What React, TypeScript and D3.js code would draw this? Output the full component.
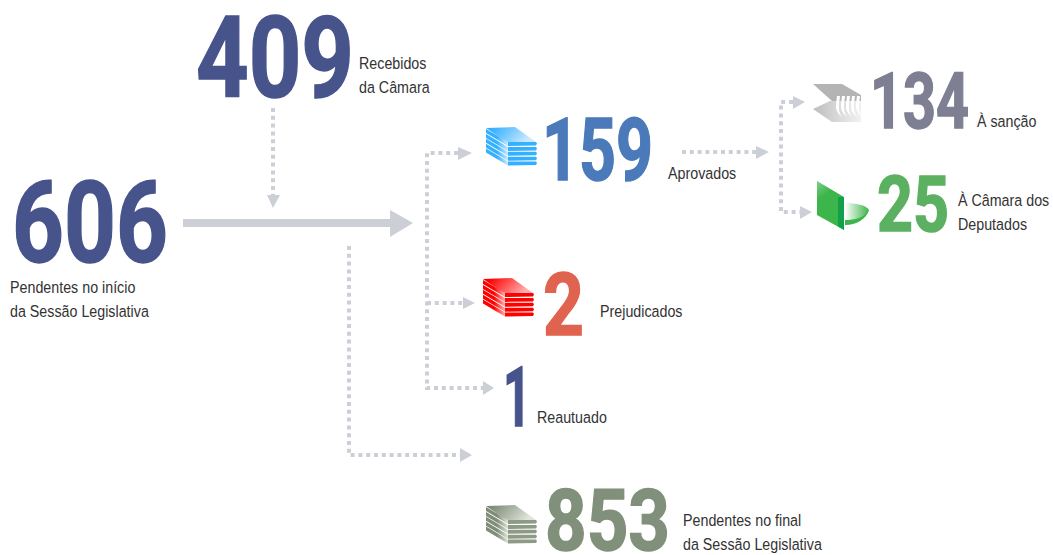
import React from "react";
import * as d3 from "d3";

// values
const stages = ["inicio", "recebidos", "aprovados", "sancao", "camara", "prejudicados", "reautuado", "final"];
const totals = [606, 409, 159, 134, 25, 2, 1, 853];
const captions = [
  ["Pendentes no início", "da Sessão Legislativa"],
  ["Recebidos", "da Câmara"],
  ["Aprovados"],
  ["À sanção"],
  ["À Câmara dos", "Deputados"],
  ["Prejudicados"],
  ["Reautuado"],
  ["Pendentes no final", "da Sessão Legislativa"],
];

const stageColor = d3.scaleOrdinal<string, string>()
  .domain(stages)
  .range(["#47548c", "#47548c", "#4a7ab9", "#7e7f92", "#5cb062", "#e06350", "#47548c", "#81907a"]);

// layout, one row per stage: number box then caption origin
const numberBox = [
  { x: 12, base: 262, w: 156, size: 113 },
  { x: 196, base: 97, w: 158, size: 113 },
  { x: 542, base: 180, w: 111, size: 88 },
  { x: 870, base: 128, w: 99, size: 78 },
  { x: 877, base: 231, w: 72, size: 78 },
  { x: 543, base: 335, w: 41, size: 88 },
  { x: 503, base: 426, w: 28, size: 83 },
  { x: 545, base: 550, w: 125, size: 85 },
];
const captionPos = [
  [10, 293], [359, 69], [668, 179], [977, 127], [958, 206], [600, 317], [537, 423], [683, 526],
];

const arrowGrey = "#cdcfd6";
const captionSqueeze = 0.84;

type Pt = [number, number];
const line = d3.line<Pt>();

const dotted: Pt[][] = [
  [[273, 108], [273, 195]],
  [[458, 153], [427, 153], [427, 388], [483, 388]],
  [[427, 303], [463, 303]],
  [[349, 246], [349, 455], [460, 455]],
  [[682, 152], [756, 152]],
  [[793, 102], [781, 102], [781, 212], [800, 212]],
];
const heads: Pt[][] = [
  [[267, 195], [280, 195], [273, 208]],
  [[458, 147], [472, 153], [458, 160]],
  [[463, 297], [475, 303], [463, 309]],
  [[483, 381], [494, 388], [483, 395]],
  [[460, 448], [472, 455], [460, 462]],
  [[756, 146], [769, 152], [756, 159]],
  [[793, 96], [805, 102], [793, 109]],
  [[800, 206], [812, 212], [800, 219]],
  [[390, 210], [413, 223], [390, 237]],
];

// stack of sheets seen at an angle
const Stack = ({ id, x, y, light, mid, dark }: any) => {
  const layers = d3.range(5);
  const pitch = 4.9;
  return (
    <g transform={`translate(${x},${y})`}>
      <defs>
        <linearGradient id={`${id}-top`} x1="0" y1="0" x2="1" y2="0.3">
          <stop offset="0.15" stopColor={mid} />
          <stop offset="1" stopColor={light} />
        </linearGradient>
        <linearGradient id={`${id}-side`} x1="0" y1="0" x2="1" y2="0">
          <stop offset="0" stopColor={mid} />
          <stop offset="0.5" stopColor={mid} />
          <stop offset="1" stopColor={light} />
        </linearGradient>
      </defs>
      <path d={line([[0, 1], [29, 0], [50, 15], [22, 16]])!} fill={`url(#${id}-top)`} />
      {layers.map((i) => (
        <g key={i}>
          <path
            d={line([[0, 2 + i * pitch], [22, 15 + i * pitch], [22, 19 + i * pitch], [0, 6 + i * pitch]])!}
            fill={`url(#${id}-side)`}
          />
          <path
            d={line([[22, 15 + i * pitch], [50, 15 + i * pitch], [51, 16.5 + i * pitch], [50, 18.5 + i * pitch], [22, 19 + i * pitch]])!}
            fill={dark}
          />
        </g>
      ))}
    </g>
  );
};

const GreyIcon = () => {
  const teeth = d3.range(5);
  return (
    <g>
      <defs>
        <linearGradient id="grey-low" x1="0" y1="0" x2="1" y2="0">
          <stop offset="0" stopColor="#bdbdbd" />
          <stop offset="1" stopColor="#f2f2f2" />
        </linearGradient>
        <linearGradient id="green-bowl" x1="0" y1="0" x2="1" y2="0">
          <stop offset="0" stopColor="#ffffff" />
          <stop offset="1" stopColor="#3cb54a" />
        </linearGradient>
        <linearGradient id="green-slab" x1="0" y1="0" x2="0.4" y2="1">
          <stop offset="0" stopColor="#7fd08a" />
          <stop offset="0.35" stopColor="#3cb54a" />
          <stop offset="1" stopColor="#3cb54a" />
        </linearGradient>
      </defs>
      <path d={line([[813, 84], [842, 84], [861, 95], [861, 101], [832, 101]])!} fill="#b4b4b4" />
      <path d={line([[813, 109], [830, 101], [861, 101], [861, 122], [832, 122]])!} fill="url(#grey-low)" />
      {teeth.map((i) => (
        <path
          key={i}
          d={`M${837 + i * 5},96 L${840 + i * 5},96 L${839 + i * 5},104 Q${838 + i * 5},111 ${842 + i * 5},117 Q${835 + i * 5},112 ${836 + i * 5},104 Z`}
          fill="#ffffff"
        />
      ))}
    </g>
  );
};

const GreenIcon = () => (
  <g>
    <path d={line([[817, 181], [844, 197], [844, 230], [817, 215]])!} fill="url(#green-slab)" />
    <path d="M845,203 C856,203 866,205 869,210 C866,219 856,225 845,225 Z" fill="url(#green-bowl)" />
    <path d="M845,225 C856,225 866,219 869,210 C864,218 855,220 845,220 Z" fill="#3cb54a" />
    <path d={line([[838, 197], [844, 197], [844, 230], [838, 226.5]])!} fill="#12a04a" />
  </g>
);

export default function App() {
  return (
    <svg
      width={1053}
      height={555}
      style={{ position: "absolute", left: 0, top: 0, background: "#fff" }}
    >
      {dotted.map((pts, i) => (
        <path key={i} d={line(pts)!} fill="none" stroke={arrowGrey} strokeWidth={4} strokeDasharray="4 3.8" />
      ))}
      <rect x={183} y={219} width={208} height={8} fill={arrowGrey} />
      {heads.map((pts, i) => (
        <path key={i} d={line(pts) + "Z"} fill={arrowGrey} />
      ))}

      <Stack id="blue" x={486} y={127} light="#cdeaff" mid="#35b0ff" dark="#35b0ff" />
      <Stack id="red" x={483} y={278} light="#ffb0b0" mid="#ff0000" dark="#ff0000" />
      <Stack id="olive" x={486} y={505} light="#dfe4da" mid="#7f8c76" dark="#8d9a85" />
      <GreyIcon />
      <GreenIcon />

      {stages.map((s, i) => (
        <g key={s}>
          <text
            x={numberBox[i].x}
            y={numberBox[i].base}
            fontFamily="Roboto, sans-serif"
            fontSize={numberBox[i].size}
            fontWeight={700}
            fill={stageColor(s)}
            stroke={stageColor(s)}
            strokeWidth={1.5}
            textLength={numberBox[i].w}
            lengthAdjust="spacingAndGlyphs"
          >
            {totals[i]}
          </text>
          {captions[i].map((c, j) => (
            <text
              key={j}
              transform={`translate(${captionPos[i][0]},${captionPos[i][1] + j * 24}) scale(${captionSqueeze},1)`}
              fontFamily="Liberation Sans, sans-serif"
              fontSize={17}
              fill="#333333"
            >
              {c}
            </text>
          ))}
        </g>
      ))}
    </svg>
  );
}
